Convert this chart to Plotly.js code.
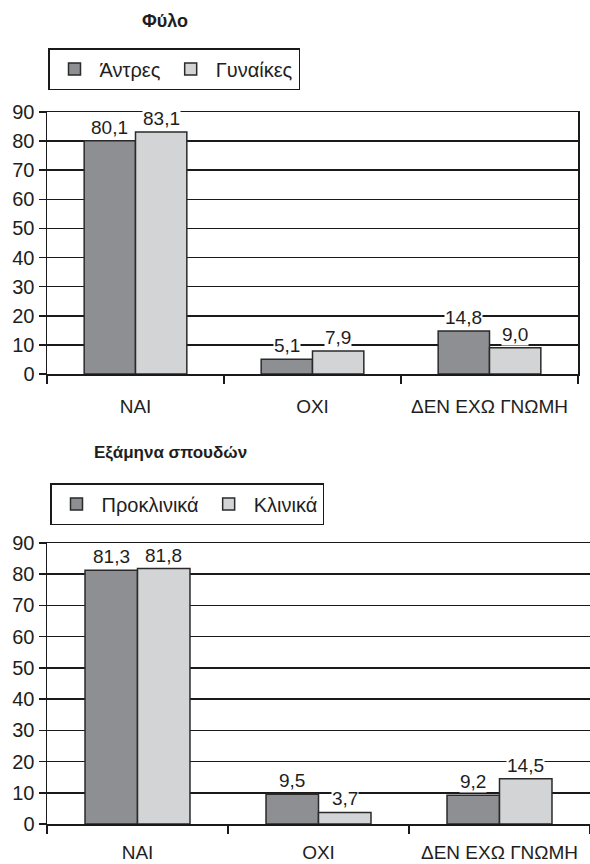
<!DOCTYPE html>
<html>
<head>
<meta charset="utf-8">
<script src="https://cdn.plot.ly/plotly-3.0.1.min.js"></script>
<style>html,body{margin:0;padding:0;background:#fff;}#chart{width:590px;height:864px;}</style>
</head>
<body>
<div id="chart"></div>
<script>
const categories = ['NAI', 'ΟΧΙ', 'ΔΕΝ ΕΧΩ ΓΝΩΜΗ'];
const title1 = 'Φύλο';
const title2 = 'Εξάμηνα σπουδών';
const seriesNames1 = ['Άντρες', 'Γυναίκες'];
const seriesNames2 = ['Προκλινικά', 'Κλινικά'];
const men = [80.1, 5.1, 14.8];
const women = [83.1, 7.9, 9.0];
const preclinical = [81.3, 9.5, 9.2];
const clinical = [81.8, 3.7, 14.5];
const yTicks = [0, 10, 20, 30, 40, 50, 60, 70, 80, 90];

const W = 590, H = 864;
const FONT = 'Liberation Sans, Arial, Helvetica, sans-serif';
const DARK = '#8e8f93', LIGHT = '#d3d4d6', EDGE = '#2a2a2a', TXT = '#1e1e1e';
const bargap = 0.42;

const dom1x = [47 / W, 578 / W], dom1y = [1 - 374 / H, 1 - 112 / H];
const dom2x = [47 / W, 1], dom2y = [1 - 824 / H, 1 - 543 / H];

function bar(name, vals, color, xa, ya, leg) {
  return {
    type: 'bar', name: name, x: categories, y: vals, xaxis: xa, yaxis: ya, legend: leg,
    marker: {color: color, line: {color: EDGE, width: 1.5}},
    hoverinfo: 'skip'
  };
}
const data = [
  bar(seriesNames1[0], men, DARK, 'x', 'y', 'legend'),
  bar(seriesNames1[1], women, LIGHT, 'x', 'y', 'legend'),
  bar(seriesNames2[0], preclinical, DARK, 'x2', 'y2', 'legend2'),
  bar(seriesNames2[1], clinical, LIGHT, 'x2', 'y2', 'legend2')
];

const fmt = v => v.toFixed(1).replace('.', ',');
const annotations = [];
function labels(vals, side, xa, ya, domx) {
  const catW = (domx[1] - domx[0]) * W / categories.length;
  const bw = catW * (1 - bargap) / 2;
  vals.forEach((v, i) => {
    annotations.push({
      xref: xa, yref: ya, x: categories[i], y: v, text: fmt(v),
      xshift: side * bw / 2, yshift: 2, yanchor: 'bottom', xanchor: 'center',
      showarrow: false, bgcolor: '#ffffff', borderpad: 0,
      font: {family: FONT, size: 19, color: TXT}
    });
  });
}
labels(men, -1, 'x', 'y', dom1x);
labels(women, 1, 'x', 'y', dom1x);
labels(preclinical, -1, 'x2', 'y2', dom2x);
labels(clinical, 1, 'x2', 'y2', dom2x);
annotations.push({xref: 'paper', yref: 'paper', x: 165 / W, y: 1 - 21 / H, text: '<b>' + title1 + '</b>',
  showarrow: false, xanchor: 'center', yanchor: 'middle', font: {family: FONT, size: 18, color: TXT}});
annotations.push({xref: 'paper', yref: 'paper', x: 170 / W, y: 1 - 452 / H, text: '<b>' + title2 + '</b>',
  showarrow: false, xanchor: 'center', yanchor: 'middle', font: {family: FONT, size: 17, color: TXT}});

function yaxis(dom, mirror, anchor) {
  return {
    domain: dom, anchor: anchor, range: [0, 90], tickvals: yTicks, ticktext: yTicks.map(String),
    showgrid: true, gridcolor: '#1a1a1a', gridwidth: 1.5, zeroline: false,
    showline: true, linecolor: '#1a1a1a', linewidth: 1.5, mirror: mirror,
    ticks: 'outside', ticklen: 7, tickwidth: 1.5, tickcolor: '#1a1a1a',
    tickfont: {family: FONT, size: 20, color: TXT}, automargin: false, fixedrange: true
  };
}
function xaxis(dom, anchor, standoff) {
  return {
    domain: dom, anchor: anchor, type: 'category', tickson: 'boundaries',
    showline: true, linecolor: '#1a1a1a', linewidth: 1.5, mirror: true,
    ticks: 'outside', ticklen: 8, tickwidth: 1.5, tickcolor: '#1a1a1a', showgrid: false,
    ticklabelstandoff: standoff,
    tickfont: {family: FONT, size: 19, color: TXT}, automargin: false, fixedrange: true
  };
}

const legendBase = {
  orientation: 'h', xanchor: 'left', yanchor: 'top', bgcolor: '#ffffff',
  bordercolor: '#1a1a1a', borderwidth: 1.5, font: {family: FONT, size: 20, color: TXT},
  itemwidth: 40, itemclick: false, itemdoubleclick: false, traceorder: 'normal'
};

const layout = {
  width: W, height: H, margin: {l: 0, r: 0, t: 0, b: 0},
  paper_bgcolor: '#ffffff', plot_bgcolor: '#ffffff',
  barmode: 'group', bargap: bargap, bargroupgap: 0,
  xaxis: xaxis(dom1x, 'y', 15),
  yaxis: yaxis(dom1y, true, 'x'),
  xaxis2: xaxis(dom2x, 'y2', 11),
  yaxis2: yaxis(dom2y, false, 'x2'),
  legend: Object.assign({}, legendBase, {x: 48 / W, y: 1 - 48 / H}),
  legend2: Object.assign({}, legendBase, {x: 50 / W, y: 1 - 483 / H}),
  annotations: annotations,
  showlegend: true
};

Plotly.newPlot('chart', data, layout, {displayModeBar: false, staticPlot: true});
</script>
</body>
</html>
